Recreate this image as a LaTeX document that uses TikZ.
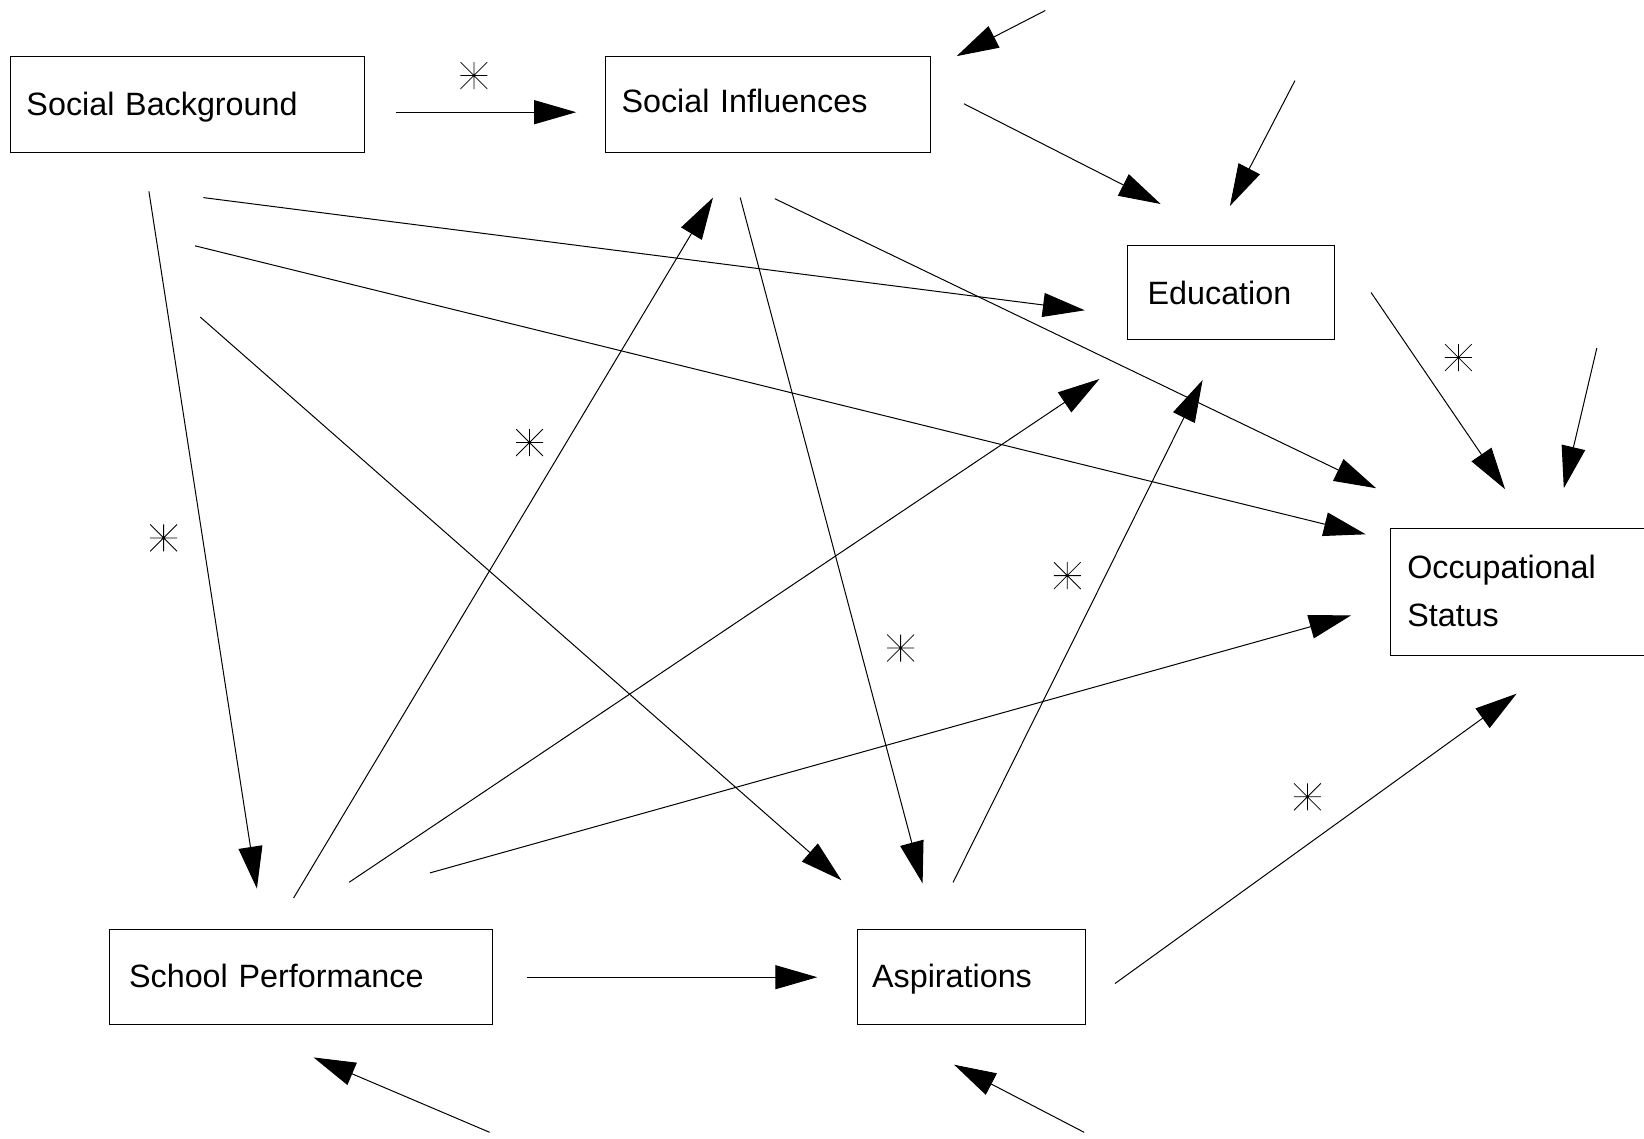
\documentclass[tikz,border=0pt]{standalone}
\usepackage{fontspec}
\setmainfont{Liberation Sans}
\usetikzlibrary{arrows.meta}

\begin{document}
\begin{tikzpicture}[x=1pt, y=-1pt, >={Triangle[length=42pt, width=24pt]},
  box/.style={draw, line width=1pt, minimum height=95.4pt, inner ysep=0pt,
    align=left, font=\fontsize{32.3pt}{48.2pt}\selectfont},
  link/.style={->, line width=1pt},
  sig/.style={minimum size=27pt, inner sep=0pt,
    path picture={\draw[line width=0.8pt]
      (path picture bounding box.north west) -- (path picture bounding box.south east)
      (path picture bounding box.north east) -- (path picture bounding box.south west)
      (path picture bounding box.north) -- (path picture bounding box.south)
      (path picture bounding box.west) -- (path picture bounding box.east);}}]
  \useasboundingbox (0,0) rectangle (1644,1138);

  % variables
  \node[box, inner xsep=16pt, text width=322.4pt, text height=59pt, text depth=36.4pt]
    (sb) at (187.7,104.3) {Social Background};
  \node[box, inner xsep=16.5pt, text width=292pt, text height=56pt, text depth=39.4pt]
    (si) at (767.5,104.3) {Social Influences};
  \node[box, inner xsep=20.5pt, text width=166.7pt, minimum height=94.4pt, text height=59pt, text depth=35.4pt]
    (edu) at (1231,292.5) {Education};
  \node[box, inner xsep=17pt, text width=236pt, minimum height=127pt, text height=50pt, text depth=77pt]
    (os) at (1525.3,592) {Occupational\\Status};
  \node[box, inner xsep=20pt, text width=343.8pt, text height=58.3pt, text depth=37.1pt]
    (sp) at (301,976.7) {School Performance};
  \node[box, inner xsep=14.5pt, text width=198.6pt, text height=58pt, text depth=37.4pt]
    (asp) at (971.4,976.7) {Aspirations};

  % paths between variables
  \draw[link] ([shift={(30.4,7.9)}]sb.east) -- ([shift={(-28.3,7.9)}]si.west);
  \draw[link] ([shift={(-38.8,38.8)}]sb.south) -- ([shift={(-44.1,-39.9)}]sp.north);
  \draw[link] ([shift={(15.7,45.1)}]sb.south) -- ([shift={(-41.8,17.8)}]edu.west);
  \draw[link] ([shift={(7.3,93.3)}]sb.south) -- ([shift={(-24.1,6.3)}]os.north west);
  \draw[link] ([shift={(12.6,164.6)}]sb.south) -- ([shift={(-15.7,-48.3)}]asp.north west);
  \draw[link] ([shift={(33.5,-0.5)}]si.east) -- ([shift={(-70.3,-40.8)}]edu.north);
  \draw[link] ([shift={(-27.3,45.1)}]si.south) -- ([shift={(-48.8,-45.1)}]asp.north);
  \draw[link] ([shift={(7.3,46.2)}]si.south) -- ([shift={(-13.7,-39.8)}]os.north west);
  \draw[link] ([shift={(35.7,0)}]edu.east) -- ([shift={(115.3,-38.8)}]os.north west);
  \draw[link] ([shift={(-7.4,-30.5)}]sp.north) -- ([shift={(-54.5,45.1)}]si.south);
  \draw[link] ([shift={(48.1,-46.2)}]sp.north) -- ([shift={(-27.2,38.8)}]edu.south west);
  \draw[link] ([shift={(128.9,-55.6)}]sp.north) -- ([shift={(-38.8,23.4)}]os.west);
  \draw[link] ([shift={(33.5,0.5)}]sp.east) -- ([shift={(-39.8,0.5)}]asp.west);
  \draw[link] ([shift={(-18.3,-46.2)}]asp.north) -- ([shift={(-28.4,39.8)}]edu.south);
  \draw[link] ([shift={(29.3,6.8)}]asp.east) -- ([shift={(126.8,37.7)}]os.south west);

  % residuals
  \coordinate (u-si) at (1045.3,10.5);
  \coordinate (u-edu) at (1294.9,80.7);
  \coordinate (u-os) at (1596.8,348.1);
  \coordinate (u-sp) at (489.6,1132.3);
  \coordinate (u-asp) at (1084.1,1132.3);
  \draw[link] (u-si) -- ([shift={(26.2,0)}]si.north east);
  \draw[link] (u-edu) -- ([shift={(-1.1,-38.8)}]edu.north);
  \draw[link] (u-os) -- ([shift={(174,-39.8)}]os.north west);
  \draw[link] (u-sp) -- ([shift={(12.5,32.5)}]sp.south);
  \draw[link] (u-asp) -- ([shift={(-17.3,39.8)}]asp.south);

  % significant paths
  \node[sig] (s1) at (473.9,75.5) {};
  \node[sig] (s2) at (163.6,537.9) {};
  \node[sig] (s3) at (529.5,442.5) {};
  \node[sig] (s4) at (900.6,648) {};
  \node[sig] (s5) at (1067.3,575.6) {};
  \node[sig] (s6) at (1458.4,357.5) {};
  \node[sig] (s7) at (1307.4,796.8) {};
\end{tikzpicture}
\end{document}
